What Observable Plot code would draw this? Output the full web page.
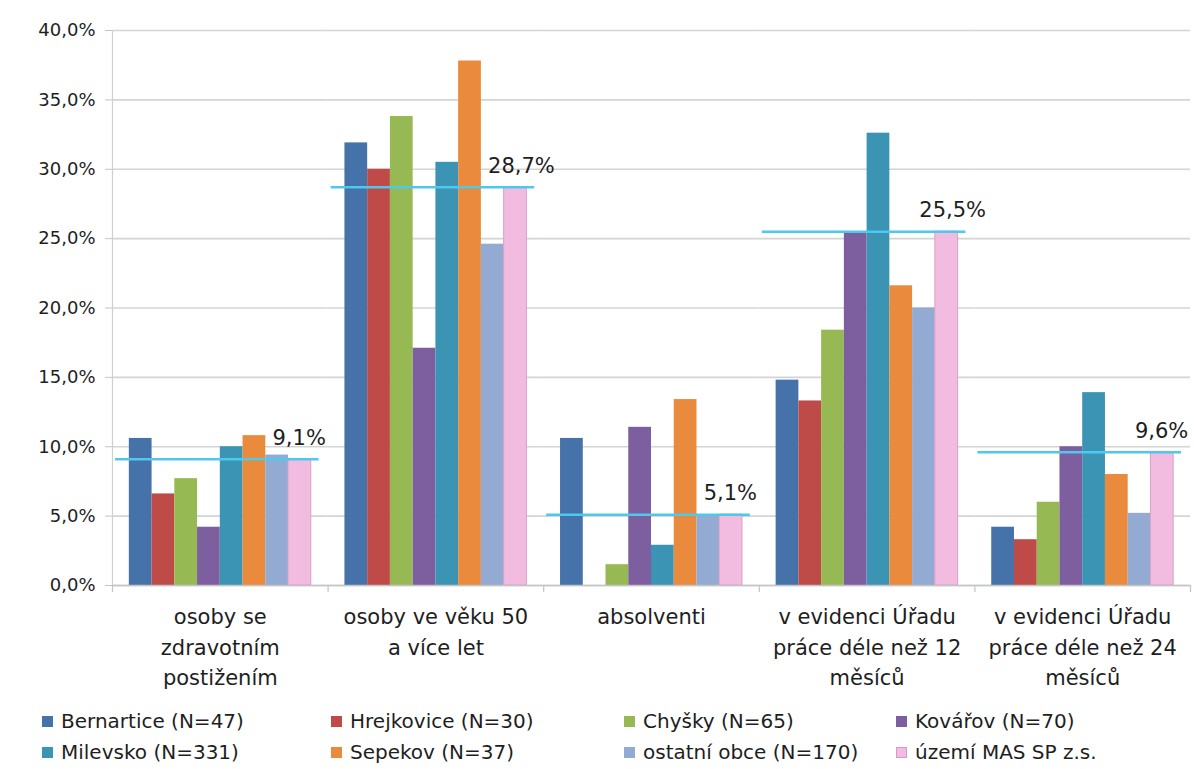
<!DOCTYPE html>
<html>
<head>
<meta charset="utf-8">
<script src="https://cdn.jsdelivr.net/npm/d3@7"></script>
<script src="https://cdn.jsdelivr.net/npm/@observablehq/plot@0.6"></script>
<style>
  body { margin: 0; background: #fff; font-family: "DejaVu Sans", Verdana, sans-serif; }
  #chart { position: relative; width: 1194px; height: 769px; overflow: hidden; }
  #legend { position: absolute; left: 0; top: 0; width: 1194px; font-size: 20px; color: #1e1e1e; }
  .item { position: absolute; display: flex; align-items: center; height: 26px; white-space: nowrap; }
  .sw { width: 11px; height: 11px; margin-right: 8px; box-sizing: border-box; }
</style>
</head>
<body>
<div id="chart"></div>
<script>
// ---- data ----
const categories = [
  "osoby se\nzdravotním\npostižením",
  "osoby ve věku 50\na více let",
  "absolventi",
  "v evidenci Úřadu\npráce déle než 12\nměsíců",
  "v evidenci Úřadu\npráce déle než 24\nměsíců"
];
const seriesNames = [
  "Bernartice (N=47)", "Hrejkovice (N=30)", "Chyšky (N=65)", "Kovářov (N=70)",
  "Milevsko (N=331)", "Sepekov (N=37)", "ostatní obce (N=170)", "území MAS SP z.s."
];
const seriesColors = ["#4572a8", "#be4b48", "#97b954", "#7d5fa0", "#3b94b3", "#ea8a3c", "#93aad2", "#f1bce0"];
const bernartice  = [10.6, 31.9, 10.6, 14.8, 4.2];
const hrejkovice  = [6.6, 30.0, 0.0, 13.3, 3.3];
const chysky      = [7.7, 33.8, 1.5, 18.4, 6.0];
const kovarov     = [4.2, 17.1, 11.4, 25.4, 10.0];
const milevsko    = [10.0, 30.5, 2.9, 32.6, 13.9];
const sepekov     = [10.8, 37.8, 13.4, 21.6, 8.0];
const ostatni     = [9.4, 24.6, 5.0, 20.0, 5.2];
const uzemiMAS    = [9.1, 28.7, 5.1, 25.5, 9.6];
const averages    = [9.1, 28.7, 5.1, 25.5, 9.6];
const yTicks      = [0, 5, 10, 15, 20, 25, 30, 35, 40];

const seriesValues = [bernartice, hrejkovice, chysky, kovarov, milevsko, sepekov, ostatni, uzemiMAS];
const table = [];
seriesNames.forEach((s, si) => categories.forEach((c, ci) => table.push({cat: c, series: s, value: seriesValues[si][ci]})));
const avgTable = categories.map((c, i) => ({cat: c, avg: averages[i]}));
const pinkTable = table.filter(d => d.series === seriesNames[seriesNames.length - 1]);

const fmt = d => d.toFixed(1).replace(".", ",") + "%";

// ---- layout ----
const W = 1194, H = 700, mL = 112, mR = 4, mT = 30, mB = 115;
const po = 0.74;
const facetW = (W - mL - mR) / categories.length;
const step = facetW / (seriesNames.length + 2 * po);
const edgeDx = step * po + step / 2;
const font = "'DejaVu Sans', Verdana, sans-serif";
const txt = "#1e1e1e";

const plot = Plot.plot({
  width: W, height: H,
  marginLeft: mL, marginRight: mR, marginTop: mT, marginBottom: mB,
  style: {fontFamily: font, background: "white", overflow: "visible"},
  fx: {domain: categories, padding: 0, round: false, axis: null},
  x: {domain: seriesNames, paddingInner: 0, paddingOuter: po, round: false, axis: null},
  y: {domain: [0, 40], axis: null},
  color: {domain: seriesNames, range: seriesColors},
  marks: [
    Plot.gridY(yTicks, {stroke: "#d4d4d4", strokeOpacity: 1, strokeWidth: 1.7}),
    Plot.axisY(yTicks, {tickFormat: fmt, tickSize: 7, tickPadding: 10, stroke: "#c4c4c4", fill: txt, fontSize: 18}),
    Plot.barY(table, {fx: "cat", x: "series", y: "value", fill: "series"}),
    Plot.barY(pinkTable, {fx: "cat", x: "series", y: "value", fill: "none", stroke: "#dc9fca", strokeWidth: 1}),
    Plot.ruleY(avgTable, {fx: "cat", y: "avg", stroke: "#4fc8ee", strokeWidth: 2.5, insetLeft: 3, insetRight: 9}),
    Plot.text(avgTable, {fx: "cat", y: "avg", text: d => fmt(d.avg), frameAnchor: "left", textAnchor: "start",
      dx: 160, dy: -21, fontSize: 21, fill: txt}),
    Plot.ruleY(avgTable, {fx: "cat", y: () => 0, stroke: "#c4c4c4", strokeWidth: 1.5}),
    Plot.ruleX(avgTable, {fx: "cat", x: () => seriesNames[0], y1: () => 0, y2: () => 0, insetBottom: -7,
      dx: -edgeDx, stroke: "#c4c4c4", strokeWidth: 1.2}),
    Plot.ruleX(avgTable.slice(-1), {fx: "cat", x: () => seriesNames[seriesNames.length - 1], y1: () => 0, y2: () => 0,
      insetBottom: -7, dx: edgeDx, stroke: "#c4c4c4", strokeWidth: 1.2}),
    Plot.ruleX(avgTable.slice(0, 1), {fx: "cat", x: () => seriesNames[0], y1: () => 0, y2: () => 40,
      dx: -edgeDx, stroke: "#cfcfcf", strokeWidth: 1.2}),
    Plot.text(avgTable, {fx: "cat", text: "cat", frameAnchor: "bottom", lineAnchor: "top", dy: 17,
      fontSize: 21, lineHeight: 1.45, fill: txt, textAnchor: "middle"})
  ]
});

const chart = document.getElementById("chart");
chart.appendChild(plot);

// ---- legend ----
const legend = document.createElement("div");
legend.id = "legend";
const colX = [42, 331, 624, 896];
const rowY = [708, 739];
seriesNames.forEach((s, i) => {
  const item = document.createElement("div");
  item.className = "item";
  item.style.left = colX[i % 4] + "px";
  item.style.top = rowY[Math.floor(i / 4)] + "px";
  const sw = document.createElement("span");
  sw.className = "sw";
  sw.style.background = seriesColors[i];
  if (i === seriesNames.length - 1) sw.style.border = "1px solid #d79ac6";
  const t = document.createElement("span");
  t.textContent = s;
  item.appendChild(sw);
  item.appendChild(t);
  legend.appendChild(item);
});
chart.appendChild(legend);
</script>
</body>
</html>
